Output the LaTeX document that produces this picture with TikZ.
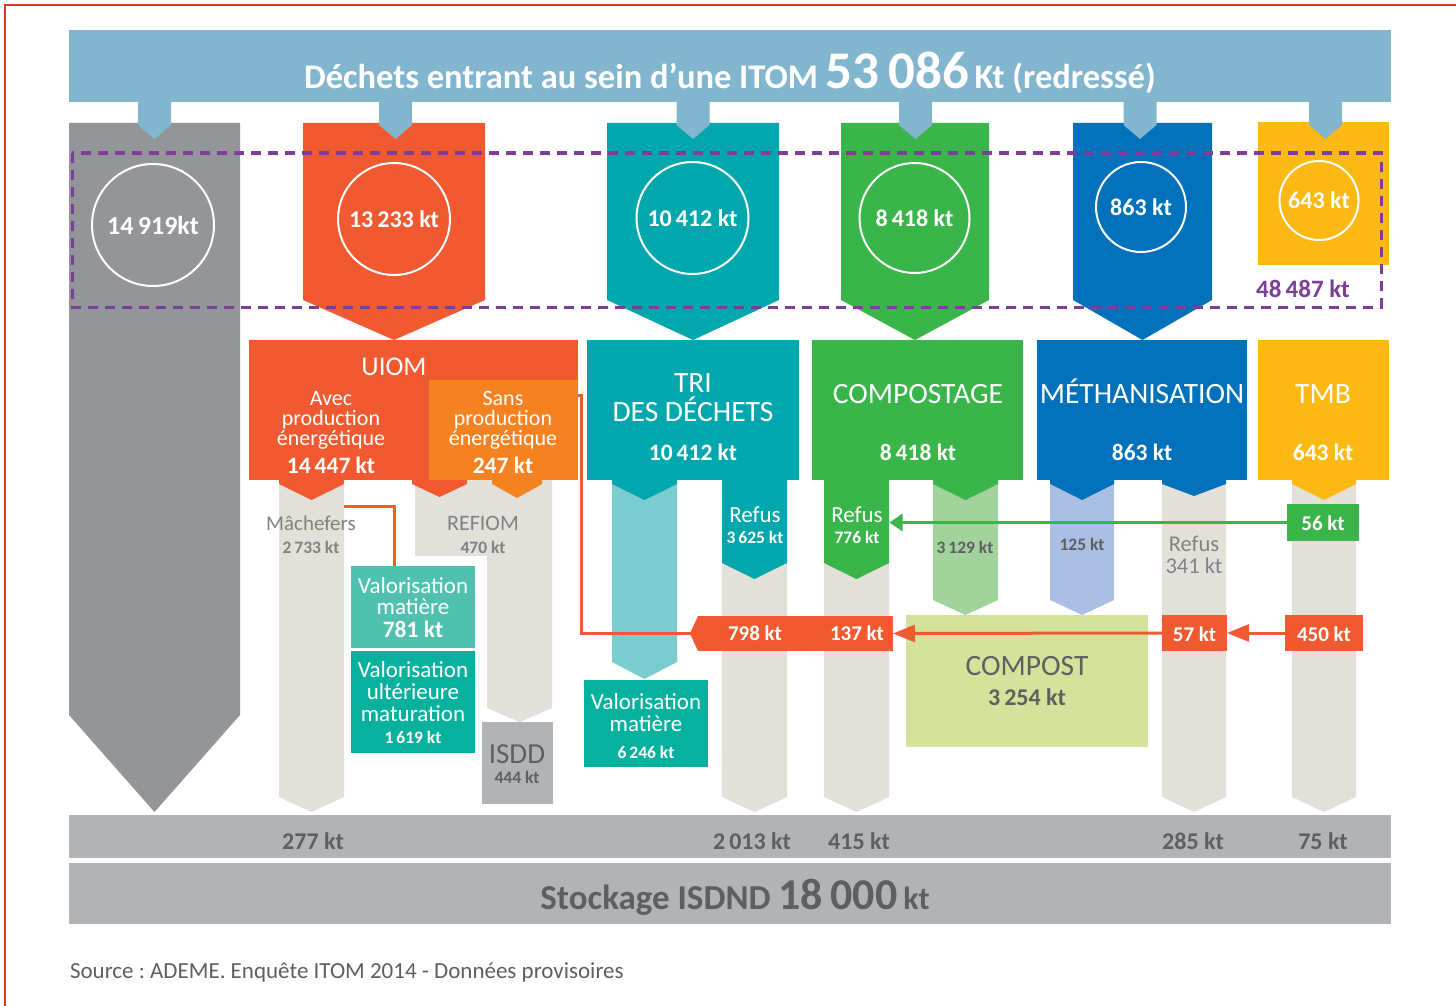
\documentclass[tikz,border=0pt]{standalone}
\usepackage{fontspec}
\setmainfont{Carlito}
\frenchspacing
\usetikzlibrary{arrows.meta}
\definecolor{cBanner}{HTML}{82B6CF}
\definecolor{cGrey}{HTML}{939598}
\definecolor{cRed}{HTML}{F15A31}
\definecolor{cOrange}{HTML}{F58220}
\definecolor{cTeal}{HTML}{00A8AD}
\definecolor{cGreen}{HTML}{39B54A}
\definecolor{cBlue}{HTML}{0071BA}
\definecolor{cYellow}{HTML}{FDB913}
\definecolor{cBeige}{HTML}{E2E0D9}
\definecolor{cTealL}{HTML}{7ACCCE}
\definecolor{cGreenL}{HTML}{A2D39C}
\definecolor{cBlueL}{HTML}{AABFE3}
\definecolor{cValA}{HTML}{4FC1AE}
\definecolor{cValB}{HTML}{06B29D}
\definecolor{cIsdd}{HTML}{B1B3B6}
\definecolor{cCompost}{HTML}{D4E39B}
\definecolor{cBand}{HTML}{B2B3B6}
\definecolor{cPurple}{HTML}{7B3F98}
\definecolor{cTxtGrey}{HTML}{808285}
\definecolor{cTxtDark}{HTML}{5E5F61}
\definecolor{cFrame}{HTML}{E6332A}
\newcommand{\fsz}[2]{\fontsize{#1}{#2}\selectfont}
% column with a pointed end: colour, x1, x2, top, shoulder, tip
\newcommand{\pcol}[6]{\fill[#1] (#2,#4) -- (#3,#4) -- (#3,#5) -- ({(#2+#3)/2},#6) -- (#2,#5) -- cycle;}

\begin{document}
\begin{tikzpicture}[
      x = 1pt, y = -1pt,
      every node/.style = {
        inner sep = 0pt, outer sep = 0pt, align = center, text = white},
      box/.style 2 args = {rectangle, draw = none, minimum width = #1, minimum height = #2},
      circ/.style = {circle, draw = white, line width = 2pt, minimum size = #1,
        font = \bfseries\fsz{24}{24}},
      head/.style = {anchor = base, font = \fsz{29.5}{29}},
      body/.style = {anchor = base, font = \fsz{22}{20}},
      val/.style = {anchor = base, font = \bfseries\fsz{23.5}{24}},
      small/.style = {anchor = base, font = \bfseries\fsz{17.5}{18}},
      tag/.style = {anchor = base, font = \bfseries\fsz{21}{21}},
      redline/.style = {draw = cRed, line width = 3pt},
      redarrow/.style = {redline, -{Triangle[length=22pt, width=17pt]}},
      greenarrow/.style = {draw = cGreen, line width = 3pt, -{Triangle[length=13pt, width=17pt]}}
      ]
    \useasboundingbox (0,0) rectangle (1456,1006);
    \fill[white] (0,0) rectangle (1456,1006);
    \draw[cFrame, line width = 1.5pt] (5,1006) -- (5,5) -- (1456,5);

    % banner
    \node[box={1322}{72}, fill=cBanner] (banner) at (730,66) {};
    \node[anchor=base, font=\bfseries\fsz{34.5}{35}] (title) at (730,89)
      {Déchets entrant au sein d’une ITOM {\fsz{53}{53}53\,086}\,Kt (redressé)};

    % input columns
    \pcol{cGrey}{69}{240}{123}{715}{812}
    \pcol{cRed}{303}{485}{123}{300}{340}
    \pcol{cTeal}{607}{779}{123}{300}{340}
    \pcol{cGreen}{841}{989}{123}{300}{340}
    \pcol{cBlue}{1073}{1212}{123}{300}{340}
    \fill[cYellow] (1258,122) rectangle (1389,265);
    \foreach \x in {154.5,395.5,693,915.5,1140,1325.5} {
      \pcol{cBanner}{\x-16.5}{\x+16.5}{100}{125}{139}
    }

    \node[circ=122, font=\bfseries\fsz{26}{26}] (in1) at (153,225) {14\,919kt}; % 0
    \node[circ=112] (in2) at (394,219) {13\,233 kt}; % 1
    \node[circ=112] (in3) at (692.5,218) {10\,412 kt}; % 2
    \node[circ=110] (in4) at (914.5,218) {8\,418 kt}; % 3
    \node[circ=90] (in5) at (1141,207) {863 kt}; % 4
    \node[circ=79] (in6) at (1319,200.5) {643 kt}; % 5
    \draw[cPurple, line width = 3pt, dash pattern = on 10pt off 7pt] (72,153) rectangle (1381,307);
    \node[anchor=base, text=cPurple, font=\bfseries\fsz{25}{25}] (total) at (1303,297) {48\,487 kt};

    % lower columns
    \pcol{cBeige}{279}{344}{480}{797}{812}
    \fill[cBeige] (415,480) rectangle (552,556);
    \pcol{cBeige}{487}{552}{480}{708}{722}
    \pcol{cTealL}{612}{677}{480}{662}{679}
    \pcol{cBeige}{722}{787}{480}{797}{812}
    \pcol{cTeal}{722}{787}{478}{563}{579}
    \pcol{cBeige}{824}{889}{480}{797}{812}
    \pcol{cGreen}{824}{889}{478}{563}{579}
    \pcol{cGreenL}{933}{998}{480}{600}{615}
    \pcol{cBlueL}{1050}{1114}{480}{600}{615}
    \pcol{cBeige}{1162}{1226}{480}{797}{812}
    \pcol{cBeige}{1292}{1356}{480}{797}{812}
    \pcol{cRed}{279}{344}{478}{484}{500}
    \pcol{cRed}{412}{467}{478}{484}{497}
    \pcol{cOrange}{492}{542}{478}{484}{498}
    \pcol{cTeal}{612}{677}{478}{484}{500}
    \pcol{cGreen}{933}{998}{478}{484}{500}
    \pcol{cBlue}{1050}{1114}{478}{484}{500}
    \pcol{cBlue}{1162}{1226}{478}{484}{496}
    \pcol{cYellow}{1292}{1356}{478}{484}{500}

    % treatment boxes
    \node[box={329}{140}, fill=cRed] (uiom) at (413.5,410) {};
    \node[box={149}{100}, fill=cOrange] (sans) at (503.5,430) {};
    \node[box={212}{140}, fill=cTeal] (tri) at (693,410) {};
    \node[box={211}{140}, fill=cGreen] (compo) at (917.5,410) {};
    \node[box={210}{140}, fill=cBlue] (metha) at (1142,410) {};
    \node[box={131}{140}, fill=cYellow] (tmb) at (1323.5,410) {};
    \node[head, font=\fsz{27}{27}] (tuiom) at (394,375) {UIOM};
    \node[body] (tavec) at (331,445) {Avec\\production\\énergétique};
    \node[val] (vavec) at (331,473) {14\,447 kt};
    \node[body] (tsans) at (503,445) {Sans\\production\\énergétique};
    \node[val] (vsans) at (503,473) {247 kt};
    \node[head] (ttri) at (693,421) {TRI\\DES DÉCHETS};
    \node[val] (vtri) at (693,460) {10\,412 kt};
    \node[head] (tcompo) at (918,403) {COMPOSTAGE};
    \node[val] (vcompo) at (918,460) {8\,418 kt};
    \node[head] (tmetha) at (1142,403) {MÉTHANISATION};
    \node[val] (vmetha) at (1142,460) {863 kt};
    \node[head] (ttmb) at (1323,403) {TMB};
    \node[val] (vtmb) at (1323,460) {643 kt};

    % column labels
    \node[anchor=base, text=cTxtGrey, font=\fsz{21}{21}] (mach) at (311,530) {Mâchefers};
    \node[small, text=cTxtGrey] (vmach) at (311,553) {2\,733 kt};
    \node[anchor=base, text=cTxtGrey, font=\fsz{22}{22}] (refiom) at (483,530) {REFIOM};
    \node[small, text=cTxtGrey] (vrefiom) at (483,553) {470 kt};
    \node[anchor=base, font=\fsz{23}{23}] (r3625) at (755,522) {Refus};
    \node[small] (v3625) at (755,543) {3\,625 kt};
    \node[anchor=base, font=\fsz{23}{23}, minimum width=65] (r776) at (857,522) {Refus};
    \node[small] (v776) at (857,543) {776 kt};
    \node[small, text=cTxtDark] (v3129) at (965,553) {3\,129 kt};
    \node[small, text=cTxtDark] (v125) at (1082,550) {125 kt};
    \node[anchor=base, text=cTxtGrey, font=\fsz{22.5}{22}] (r341) at (1194,573) {Refus\\341 kt};

    % outputs
    \node[box={124}{82}, fill=cValA] (vm781) at (413,607) {};
    \node[body, font=\fsz{23}{21}] (tvm781) at (413,614) {Valorisation\\matière};
    \node[val] (v781) at (413,637) {781 kt};
    \node[box={124}{102}, fill=cValB] (vum) at (413,702) {};
    \node[body, font=\fsz{23}{22}] (tvum) at (413,721) {Valorisation\\ultérieure\\maturation};
    \node[small] (v1619) at (413,743) {1\,619 kt};
    \node[box={71}{82}, fill=cIsdd] (isdd) at (517.5,763) {};
    \node[anchor=base, text=cTxtDark, font=\fsz{29}{29}] (tisdd) at (517,763) {ISDD};
    \node[small, text=cTxtDark] (v444) at (517,783) {444 kt};
    \node[box={124}{87}, fill=cValB] (vm6246) at (646,723.5) {};
    \node[body, font=\fsz{23}{22}] (tvm6246) at (646,731) {Valorisation\\matière};
    \node[small] (v6246) at (646,758) {6\,246 kt};
    \node[box={242}{132}, fill=cCompost] (compost) at (1027,681) {};
    \node[anchor=base, text=cTxtDark, font=\fsz{29.5}{29}] (tcompost) at (1027,675) {COMPOST};
    \node[val, font=\bfseries\fsz{24}{24}, text=cTxtDark] (vcompost) at (1027,705) {3\,254 kt};

    % returns to storage
    \coordinate (machout) at (344,506);
    \coordinate (vmin) at (394,566);
    \draw[redline] (machout) -| (vmin);
    \node[box={195}{35}, fill=cRed] (b798) at (795.5,633.5) {};
    \fill[cRed] (b798.north west) -- ++(-8,17.5) -- (b798.south west) -- cycle;
    \coordinate (uiomout) at (578,395);
    \draw[redline] (uiomout) -- ++(3,0) |- (b798.west);
    \node[tag] (t798) at (755,640) {798 kt};
    \node[tag] (t137) at (857,640) {137 kt};
    \node[box={65}{36}, fill=cRed] (b57) at (1194.5,633) {};
    \node[tag] (t57) at (1194.5,641) {57 kt};
    \node[box={78}{36}, fill=cRed] (b450) at (1324,633) {};
    \node[tag] (t450) at (1324,641) {450 kt};
    \node[box={72}{37}, fill=cGreen] (b56) at (1323,522.5) {};
    \node[tag] (t56) at (1323,530) {56 kt};
    \draw[redarrow] (b450.west) -- (b57.east);
    \draw[redarrow] (b57.west) -- (b798.east);
    \draw[greenarrow] (b56.west) -- (b56.west -| r776.east);

    % storage
    \node[box={1322}{43}, fill=cBand] (band1) at (730,836.5) {};
    \node[box={1322}{61}, fill=cBand] (band2) at (730,893.5) {};
    \node[val, font=\bfseries\fsz{24}{24}, text=cTxtDark] (s277) at (313,849) {277 kt};
    \node[val, font=\bfseries\fsz{24}{24}, text=cTxtDark] (s2013) at (752,849) {2\,013 kt};
    \node[val, font=\bfseries\fsz{24}{24}, text=cTxtDark] (s415) at (859,849) {415 kt};
    \node[val, font=\bfseries\fsz{24}{24}, text=cTxtDark] (s285) at (1193,849) {285 kt};
    \node[val, font=\bfseries\fsz{24}{24}, text=cTxtDark] (s75) at (1323,849) {75 kt};
    \node[anchor=base, text=cTxtDark, font=\bfseries\fsz{35}{35}] (stock) at (735,909)
      {Stockage ISDND {\fsz{44}{44}18\,000}\,{\fsz{32}{32}kt}};
    \node[anchor=base west, text=cTxtDark, font=\fsz{23}{23}] (src) at (70,978)
      {Source : ADEME. Enquête ITOM 2014 - Données provisoires};
  \end{tikzpicture}
\end{document}
